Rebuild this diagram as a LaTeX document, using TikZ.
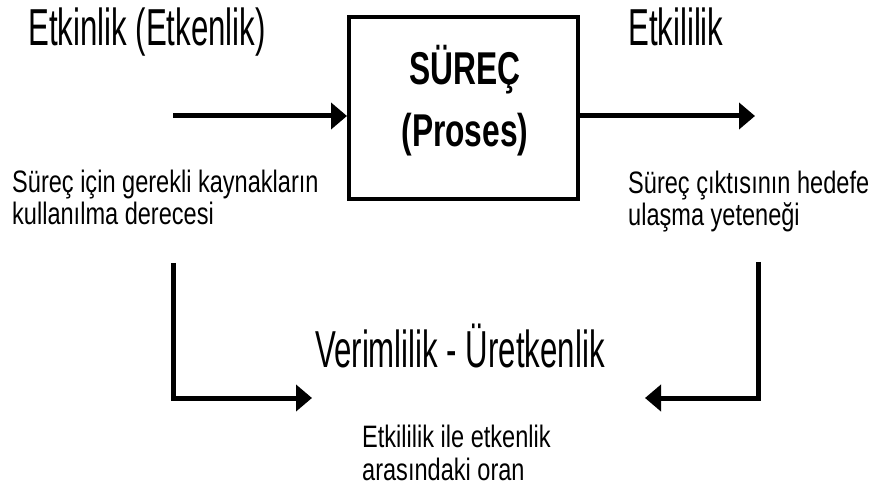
\documentclass[tikz,border=0pt]{standalone}
\usepackage{fontspec}
\setmainfont{Liberation Sans}
\newfontfamily\widefont[FakeStretch=0.6]{Liberation Sans}
\newfontfamily\narrowfont[FakeStretch=0.76]{Liberation Sans}
\newfontfamily\boxfont[FakeStretch=0.69]{Liberation Sans}
\usetikzlibrary{arrows.meta}
\tikzset{
	bigtext/.style={font=\widefont\fontsize{52}{60}\selectfont, inner sep=0pt, anchor=base west},
	smalltext/.style={font=\narrowfont\fontsize{31}{32.5}\selectfont, inner sep=0pt, anchor=base west, align=left},
	boxtext/.style={font=\boxfont\bfseries\fontsize{46}{62}\selectfont, inner sep=0pt, align=center, anchor=base},
	procbox/.style={draw, line width=4pt, minimum width=229pt, minimum height=182pt, inner sep=0pt},
	flow/.style={line width=5pt, -{Triangle[length=16pt,width=26pt]}},
}
\begin{document}
\begin{tikzpicture}[x=1pt,y=-1pt]
		\useasboundingbox (0,0) rectangle (873,494);
		\node[procbox] (proc) at (463.5,108) {};
		\node[boxtext] (proclbl) at (465,147) {SÜREÇ\\(Proses)};
		\node[bigtext] (etkinlik) at (28,46) {Etkinlik (Etkenlik)};
		\node[bigtext] (etkililik) at (628,46) {Etkililik};
		\node[smalltext] (kaynak) at (12,225) {Süreç için gerekli kaynakların\\kullanılma derecesi};
		\node[smalltext] (hedef) at (628,226) {Süreç çıktısının hedefe\\ulaşma yeteneği};
		\node[bigtext] (verim) at (315,367) {Verimlilik - Üretkenlik};
		\node[smalltext] (oran) at (362,480) {Etkililik ile etkenlik\\arasındaki oran};
		\coordinate (inStart) at (173,116);
		\coordinate (outEnd) at (755,116);
		\draw[flow] (inStart) -- (inStart -| proc.west);
		\draw[flow] (outEnd -| proc.east) -- (outEnd);
		\coordinate (lTop) at (173,263);
		\coordinate (lEnd) at (312,398);
		\coordinate (rTop) at (758,262);
		\coordinate (rEnd) at (645,398);
		\draw[flow] (lTop) |- (lEnd);
		\draw[flow] (rTop) |- (rEnd);
	\end{tikzpicture}
\end{document}
